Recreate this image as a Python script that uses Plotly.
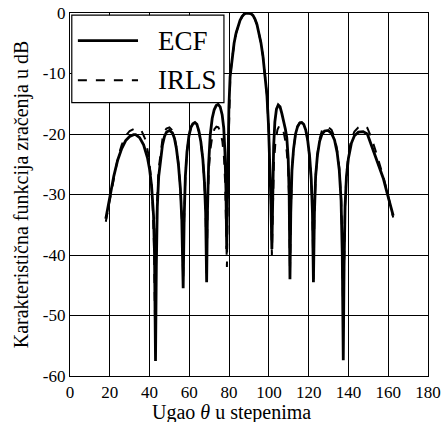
import plotly.graph_objects as go

# ECF pattern (angle in degrees, level in dB)
ecf_theta = [18, 20, 22, 24, 26, 28, 30, 32, 33, 35, 37, 39, 40, 41, 42, 42.5, 43,
             43.4, 43.9, 44.6, 45.5, 46.5, 47.5, 48.5, 50, 51.5, 52.5, 53.5, 54.5, 55.5, 56.2, 56.9,
             57.4, 58, 58.8, 59.8, 60.8, 61.8, 62.8, 63.8, 64.8, 65.8, 66.8, 67.6, 68.2, 68.7,
             69.1, 69.7, 70.5, 71.5, 72.5, 73.5, 74.5, 75.5, 76.5, 77.3, 77.9, 78.4, 78.8,
             79.3, 79.9, 80.5, 81.5, 82.5, 83.5, 84.5, 85.5, 86.5, 87.5, 88.5, 89.8, 91, 92, 93,
             94, 95, 96, 97, 98, 99, 99.8, 100.5, 101, 101.5,
             101.9, 102.4, 103, 103.8, 104.7, 105.6, 106.5, 107.4, 108.3, 109, 109.7, 110.2, 110.6,
             111, 111.6, 112.4, 113.4, 114.4, 115.5, 116.5, 117.5, 118.5, 119.5, 120.5, 121.3, 121.9, 122.4,
             122.9, 123.5, 124.4, 125.5, 126.7, 128, 129.8, 131.5, 133, 134.3, 135.4, 136.3, 136.9, 137.4,
             137.8, 138.3, 139, 140, 141.5, 143, 145, 147.4, 149.5, 151.5, 153.5, 155.5, 157.5, 159.5,
             161, 162.5]
ecf_db = [-34, -30.5, -27, -24.3, -22.4, -21.1, -20.4, -20.1, -20.1, -20.6, -21.8, -24, -25.8, -28.5, -33.5, -40, -57.5,
          -42, -32, -27, -24, -21.8, -20.4, -19.7, -19.4, -19.8, -20.7, -22.4, -25, -29, -34, -45.5,
          -34, -27, -23, -20.3, -18.9, -18.3, -18.1, -18.4, -19.5, -21.3, -24.2, -28, -33, -44.5,
          -33, -25, -20.2, -17.4, -16, -15.3, -15.1, -15.5, -16.8, -19, -23, -29, -39,
          -26, -15.5, -10.5, -7.2, -5, -3.3, -2.1, -1.2, -0.6, -0.2, 0, 0, -0.1, -0.4, -1,
          -1.9, -3.2, -4.9, -7.1, -9.8, -13.5, -18.5, -25, -31, -39,
          -30, -22, -18, -15.9, -15.2, -15.5, -16.6, -17.8, -19.2, -20.6, -24, -30, -44,
          -33, -26, -22.5, -20, -18.8, -18.2, -18.1, -18.4, -19.3, -21, -23.8, -27.5, -33, -44.5,
          -33, -27, -23.5, -21.2, -20, -19.5, -19.4, -19.9, -21, -23, -26, -31, -40, -57.4,
          -42, -32, -27, -24, -21.5, -20.3, -19.7, -19.6, -20, -21.8, -23.5, -25.2, -27.3, -29.8,
          -31.5, -33.5]

# IRLS pattern
irls_theta = [18, 20, 22, 24, 26, 28, 30, 32, 34, 36, 38, 39.5, 40.5, 41.5, 42.2, 42.8,
              43.3, 43.8, 44.5, 45.5, 46.5, 47.5, 48.5, 50, 51.5, 52.5, 53.5, 54.5, 55.5, 56.2, 56.9,
              57.4, 58, 58.8, 59.8, 60.8, 61.8, 62.8, 63.8, 64.8, 65.8, 66.8, 67.6, 68.2, 68.7,
              69.2, 69.8, 70.6, 71.6, 72.6, 73.6, 74.6, 75.6, 76.6, 77.4, 78, 78.5, 78.9,
              79.4, 80, 80.6, 81.5, 82.5, 83.5, 84.5, 85.5, 86.5, 87.5, 88.5, 89.8, 91, 92, 93,
              94, 95, 96, 97, 98, 99, 99.8, 100.5, 101, 101.5,
              101.9, 102.5, 103.3, 104.3, 105.3, 106.3, 107.3, 108.2, 109, 109.7, 110.2, 110.6,
              111, 111.6, 112.4, 113.4, 114.4, 115.5, 116.5, 117.5, 118.5, 119.5, 120.5, 121.3, 121.9, 122.4,
              122.9, 123.5, 124.4, 125.5, 126.7, 128, 129.5, 131.5, 133, 134.3, 135.4, 136.3, 136.9, 137.4,
              137.8, 138.3, 139, 140, 141.5, 143, 145, 147.5, 149.5, 151.5, 153.5, 155.5, 157.5, 159.5,
              161, 162.5]
irls_db = [-34.5, -30.8, -27, -24, -21.8, -20.3, -19.5, -19.2, -19.1, -19.5, -21, -23.5, -26.5, -31, -38, -52,
           -40, -31, -26, -22.8, -20.8, -19.6, -19.1, -18.9, -19.4, -20.4, -22.2, -24.8, -28.8, -34, -44,
           -34, -27, -23, -20.3, -18.9, -18.3, -18.2, -18.5, -19.6, -21.4, -24.3, -28, -33, -43,
           -32, -26, -22.5, -20.3, -19.2, -18.8, -18.9, -19.6, -21.2, -23.8, -28, -35, -42,
           -26, -15.5, -10.5, -7.4, -5.1, -3.4, -2.2, -1.3, -0.6, -0.2, 0, 0, -0.1, -0.4, -1,
           -1.9, -3.2, -4.9, -7.1, -9.8, -13.5, -18.5, -25, -31, -40,
           -31, -25, -21.3, -19.3, -18.6, -18.7, -19.5, -21, -23, -26, -31, -43,
           -33, -26, -22.5, -20, -18.7, -18.1, -18.1, -18.4, -19.3, -21, -23.8, -27.5, -33, -44,
           -33, -27, -23.3, -20.8, -19.4, -18.9, -18.8, -19.3, -20.5, -22.6, -25.6, -30.5, -38, -52,
           -42, -32, -26.5, -23.3, -20.8, -19.6, -18.9, -18.6, -19, -20.6, -22.6, -24.7, -27, -29.6,
           -31.5, -33.8]

x_ticks = [0, 20, 40, 60, 80, 100, 120, 140, 160, 180]
y_ticks = [0, -10, -20, -30, -40, -50, -60]
y_ticktext = ["0", "-10", "-20", "-30", "-40", "-50", "-60"]

serif = "Liberation Serif"

fig = go.Figure()
fig.add_trace(go.Scatter(x=ecf_theta, y=ecf_db, mode="lines", name="ECF",
                         line=dict(color="black", width=2.8)))
fig.add_trace(go.Scatter(x=irls_theta, y=irls_db, mode="lines", name="IRLS",
                         line=dict(color="black", width=2, dash="dash")))

# legend box drawn by hand so the sample lines are as long as in the original
fig.add_shape(type="rect", xref="paper", yref="paper", x0=0.005, x1=0.43, y0=0.753, y1=0.994,
              line=dict(color="black", width=1.2), fillcolor="white", layer="above")
fig.add_shape(type="line", xref="paper", yref="paper", x0=0.022, x1=0.19, y0=0.924, y1=0.924,
              line=dict(color="black", width=2.8), layer="above")
fig.add_shape(type="line", xref="paper", yref="paper", x0=0.022, x1=0.19, y0=0.815, y1=0.815,
              line=dict(color="black", width=2, dash="dash"), layer="above")
fig.add_annotation(xref="paper", yref="paper", x=0.24, y=0.924, text="ECF", showarrow=False,
                   xanchor="left", yanchor="middle", font=dict(family=serif, size=27, color="black"))
fig.add_annotation(xref="paper", yref="paper", x=0.24, y=0.815, text="IRLS", showarrow=False,
                   xanchor="left", yanchor="middle", font=dict(family=serif, size=27, color="black"))

# x title as an annotation so it sits clear of the tick labels, slightly left of centre
fig.add_annotation(xref="paper", yref="paper", x=0.4525, y=-0.0995, text="Ugao <i>θ</i> u stepenima",
                   showarrow=False, xanchor="center", yanchor="middle",
                   font=dict(family=serif, size=20, color="black"))

fig.update_layout(
    width=444, height=422,
    margin=dict(l=70, r=16, t=13, b=46),
    paper_bgcolor="white", plot_bgcolor="white",
    showlegend=False,
    font=dict(family=serif, size=17, color="black"),
)
fig.update_xaxes(range=[0, 180], tickvals=x_ticks, showgrid=True, gridcolor="black", gridwidth=1,
                 showline=True, linecolor="black", linewidth=1.2, mirror=True, zeroline=False,
                 ticks="", automargin=False, tickfont=dict(family=serif, size=17, color="black"))
fig.update_yaxes(range=[-60, 0], tickvals=y_ticks, ticktext=y_ticktext, showgrid=True,
                 gridcolor="black", gridwidth=1,
                 showline=True, linecolor="black", linewidth=1.2, mirror=True, zeroline=False,
                 ticks="", automargin=False, tickfont=dict(family=serif, size=17, color="black"),
                 title=dict(text="Karakteristična funkcija zračenja u dB",
                            font=dict(family=serif, size=20, color="black"), standoff=8))

# the page body has a default 8px margin; drop it so the figure fills the window
fig.write_html("out.html", config={"displayModeBar": False},
               post_script="document.body.style.margin='0';")
